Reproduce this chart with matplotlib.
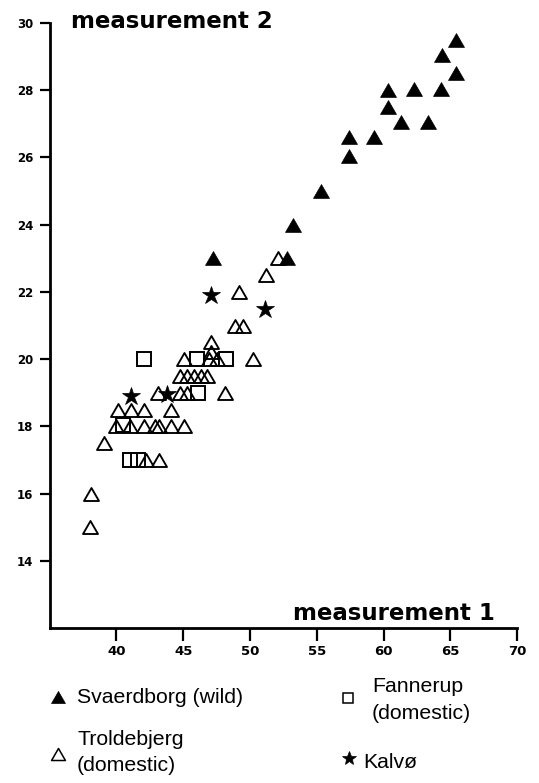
import matplotlib.pyplot as plt
from matplotlib.path import Path
from matplotlib.lines import Line2D

svaerdborg_x = [65.4, 64.4, 65.4, 60.3, 62.3, 64.3, 60.3, 61.3, 63.3, 57.4, 59.3, 57.4,
                55.3, 53.2, 52.8, 47.2]
svaerdborg_y = [29.5, 29.05, 28.5, 28.0, 28.05, 28.05, 27.5, 27.05, 27.05, 26.6, 26.6, 26.05,
                25.0, 24.0, 23.0, 23.0]

troldebjerg_x = [52.1, 51.2, 49.2, 48.9, 49.5, 47.1, 47.1, 45.1, 46.9, 47.5, 50.2,
                 44.8, 45.3, 45.8, 46.3, 46.8, 43.1, 44.8, 45.3, 48.1,
                 40.1, 41.1, 42.1, 44.1, 40.0, 41.0, 42.1, 42.9, 43.2, 44.1, 45.1,
                 39.1, 42.2, 43.2, 38.1, 38.0]
troldebjerg_y = [23.0, 22.5, 22.0, 21.0, 21.0, 20.5, 20.2, 20.0, 20.0, 20.0, 20.0,
                 19.5, 19.5, 19.5, 19.5, 19.5, 19.0, 19.0, 19.0, 19.0,
                 18.5, 18.5, 18.5, 18.5, 18.0, 18.0, 18.0, 18.0, 18.0, 18.0, 18.0,
                 17.5, 17.0, 17.0, 16.0, 15.0]

fannerup_x = [42.1, 46.0, 48.2, 46.1, 40.5, 41.0, 41.6]
fannerup_y = [20.0, 20.0, 20.0, 19.0, 18.05, 17.0, 17.0]

kalvo_x = [47.1, 51.1, 41.1, 43.8]
kalvo_y = [21.9, 21.5, 18.9, 18.95]

x_ticks = [40, 45, 50, 55, 60, 65, 70]
y_ticks = [14, 16, 18, 20, 22, 24, 26, 28, 30]

# equilateral triangle marker
tri = Path([(-1, -0.866), (1, -0.866), (0, 0.866), (0, 0)],
           [Path.MOVETO, Path.LINETO, Path.LINETO, Path.CLOSEPOLY])

fig = plt.figure(figsize=(5.39, 7.83), dpi=100)
ax = fig.add_axes([49.5 / 539, (783 - 628) / 783, (517.3 - 49.5) / 539, (628 - 23) / 783])

ax.plot(troldebjerg_x, troldebjerg_y, ls="none", marker=tri, ms=10.8, mfc="none",
        mec="black", mew=1.35)
ax.plot(fannerup_x, fannerup_y, ls="none", marker="s", ms=10.5, mfc="none",
        mec="black", mew=1.4)
ax.plot(svaerdborg_x, svaerdborg_y, ls="none", marker=tri, ms=11.5, mfc="black",
        mec="black", mew=0.5)
ax.plot(kalvo_x, kalvo_y, ls="none", marker="*", ms=13.5, mfc="black", mec="black", mew=0.5)

ax.set_xlim(35, 70)
ax.set_ylim(12, 30)
ax.set_xticks(x_ticks)
ax.set_yticks(y_ticks)
for s in ["top", "right"]:
    ax.spines[s].set_visible(False)
for s in ["left", "bottom"]:
    ax.spines[s].set_linewidth(2)
ax.tick_params(axis="x", direction="out", length=9.5, width=1.6, pad=3)
ax.tick_params(axis="y", direction="out", length=7.5, width=1.6, pad=4)
for lab in ax.get_xticklabels():
    lab.set_fontfamily("DejaVu Sans")
    lab.set_fontweight("bold")
    lab.set_fontsize(9.5)
for lab in ax.get_yticklabels():
    lab.set_fontfamily("DejaVu Sans")
    lab.set_fontweight("bold")
    lab.set_fontsize(8.5)

ax.text(36.6, 29.85, "measurement 2", fontsize=16.5, fontweight="bold",
        family="DejaVu Sans", ha="left", va="baseline", clip_on=False)
ax.text(68.3, 12.25, "measurement 1", fontsize=16.5, fontweight="bold",
        family="DejaVu Sans", ha="right", va="baseline", clip_on=False)

# legend drawn by hand (pixel positions of the original layout)
W, H = 539, 783


def fx(px):
    return px / W


def fy(py):
    return 1 - py / H


legend_markers = [
    (58, 697, tri, 10, "black"),
    (58, 754, tri, 10, "none"),
    (348, 698, "s", 7.5, "none"),
    (349, 758, "*", 10, "black"),
]
for px, py, m, size, fc in legend_markers:
    fig.add_artist(Line2D([fx(px)], [fy(py)], transform=fig.transFigure, ls="none",
                          marker=m, ms=size, mfc=fc, mec="black",
                          mew=1.1 if fc == "none" else 0.5))

legend_lines = [
    (77, 703, "Svaerdborg (wild)"),
    (77, 745, "Troldebjerg"),
    (77, 771, "(domestic)"),
    (372, 692, "Fannerup"),
    (372, 719, "(domestic)"),
    (363, 768, "Kalvø"),
]
for px, py, txt in legend_lines:
    fig.text(fx(px), fy(py), txt, fontsize=15.3, family="Liberation Sans",
             ha="left", va="baseline")

fig.savefig("out.png", dpi=100)
